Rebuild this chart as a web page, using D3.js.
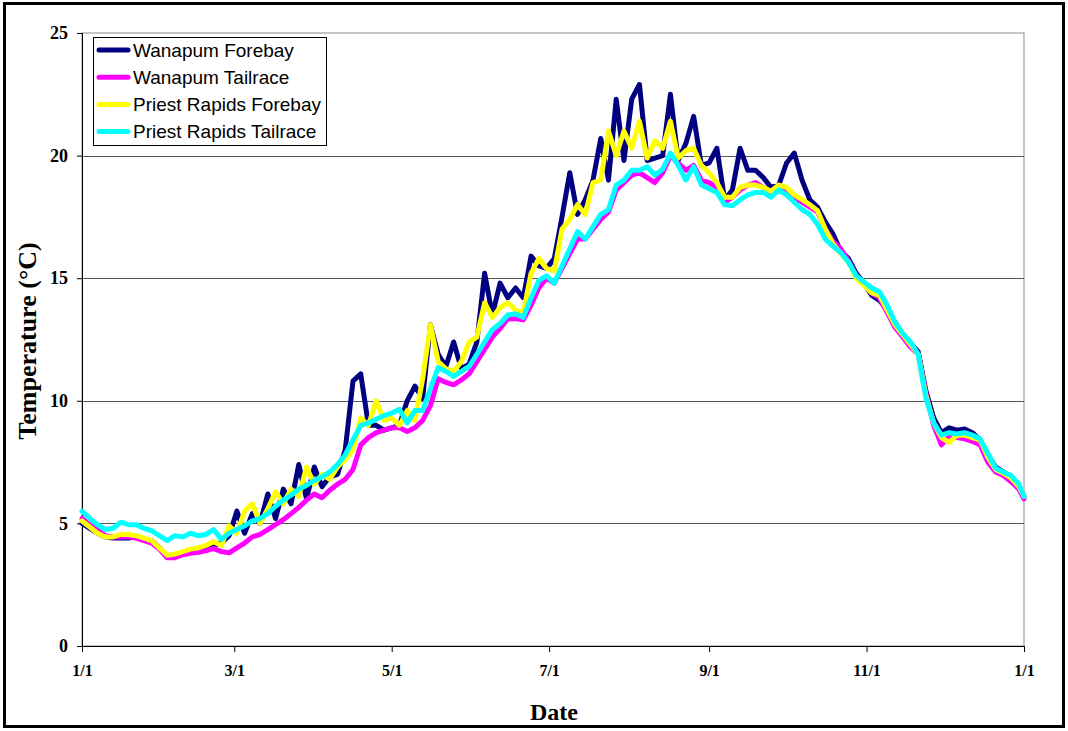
<!DOCTYPE html>
<html>
<head>
<meta charset="utf-8">
<script src="https://cdn.jsdelivr.net/npm/d3@7"></script>
<style>
  html, body { margin: 0; padding: 0; background: #fff; }
  #chart { width: 1068px; height: 731px; }
</style>
</head>
<body>
<div id="chart"></div>
<script>
// day of year for each sample
const days = [
  0, 3, 6, 9, 12, 15, 18, 21, 24, 27,
  30, 33, 36, 39, 42, 45, 48, 51, 54, 57,
  60, 63, 66, 69, 72, 75, 78, 81, 84, 87,
  90, 93, 96, 99, 102, 105, 108, 111, 114, 117,
  120, 123, 126, 129, 132, 135, 138, 141, 144, 147,
  150, 153, 156, 159, 162, 165, 168, 171, 174, 177,
  180, 183, 186, 189, 192, 195, 198, 201, 204, 207,
  210, 213, 216, 219, 222, 225, 228, 231, 234, 237,
  240, 243, 246, 249, 252, 255, 258, 261, 264, 267,
  270, 273, 276, 279, 282, 285, 288, 291, 294, 297,
  300, 303, 306, 309, 312, 315, 318, 321, 324, 327,
  330, 333, 336, 339, 342, 345, 348, 351, 354, 357,
  360, 363, 365
];

const wanapumForebay = [
  5.0, 4.8, 4.6, 4.45, 4.4, 4.4, 4.4, 4.45, 4.3, 4.3,
  4.0, 3.65, 3.65, 3.8, 3.85, 3.9, 3.95, 4.1, 4.2, 4.5,
  5.5, 4.6, 5.4, 5.0, 6.2, 5.2, 6.4, 5.8, 7.4, 6.0,
  7.3, 6.5, 6.9, 7.0, 8.0, 10.8, 11.1, 9.0, 9.0, 8.8,
  8.9, 9.0, 10.0, 10.6, 10.1, 13.1, 11.9, 11.4, 12.4, 11.3,
  11.5, 12.4, 15.2, 13.5, 14.8, 14.2, 14.6, 14.2, 15.9, 15.5,
  15.4, 15.8, 17.5, 19.3, 17.6, 18.2, 19.0, 20.7, 19.0, 22.3,
  19.8, 22.3, 22.9, 19.8, 19.9, 20.0, 22.5, 19.8, 20.5, 21.6,
  19.6, 19.7, 20.3, 18.2, 18.6, 20.3, 19.4, 19.4, 19.1, 18.7,
  18.8, 19.7, 20.1, 19.0, 18.2, 17.9, 17.3, 16.8, 16.1, 15.8,
  15.2, 14.8, 14.3, 14.1, 13.7, 13.2, 12.7, 12.35, 12.0, 10.4,
  9.3, 8.7, 8.9, 8.8, 8.85, 8.7, 8.4, 7.8, 7.3, 7.1,
  6.85, 6.5, 6.1
];

const wanapumTailrace = [
  5.2, 4.95, 4.75, 4.5, 4.45, 4.45, 4.45, 4.4, 4.3, 4.2,
  3.95, 3.6, 3.6, 3.72, 3.78, 3.82, 3.88, 3.98, 3.85, 3.8,
  4.0, 4.2, 4.45, 4.55, 4.75, 4.95, 5.15, 5.4, 5.65, 5.95,
  6.2, 6.05, 6.35, 6.6, 6.8, 7.2, 8.2, 8.5, 8.7, 8.8,
  8.9, 8.9, 8.75, 8.9, 9.2, 9.8, 10.9, 10.75, 10.65, 10.85,
  11.1, 11.6, 12.1, 12.6, 12.95, 13.35, 13.35, 13.3, 13.9, 14.6,
  15.0, 14.8, 15.4, 16.0, 16.6, 16.6, 17.0, 17.4, 17.7, 18.6,
  18.9, 19.2, 19.3, 19.1, 18.9, 19.3, 20.0, 19.7, 19.4, 19.6,
  19.0, 18.9, 18.7, 18.1, 18.3, 18.6, 18.8, 18.9, 18.7, 18.5,
  18.8, 18.6, 18.3, 18.1, 17.9, 17.7, 17.0, 16.5, 16.2, 15.7,
  15.1, 14.8, 14.4, 14.2, 13.6, 13.0, 12.6, 12.2, 11.9, 10.3,
  9.0, 8.2, 8.55, 8.5, 8.45, 8.35, 8.2, 7.5, 7.1, 6.95,
  6.7, 6.4, 6.0
];

const priestForebay = [
  5.1, 4.85, 4.6, 4.45, 4.45, 4.55, 4.55, 4.5, 4.4, 4.3,
  4.0, 3.7, 3.75, 3.85, 3.95, 4.0, 4.1, 4.25, 4.1, 4.9,
  4.6, 5.5, 5.8, 5.0, 5.6, 6.3, 5.8, 6.4, 6.1, 7.3,
  6.6, 7.0, 6.8, 7.3, 7.6, 8.0, 9.3, 9.0, 10.0, 9.2,
  9.3, 9.0, 9.6, 9.2, 10.9, 13.1, 11.6, 11.3, 11.2, 11.6,
  12.4, 12.6, 14.0, 13.4, 13.8, 14.0, 13.7, 13.6, 15.2, 15.8,
  15.4, 15.3, 17.0, 17.4, 18.0, 17.6, 18.9, 19.0, 21.0, 20.0,
  21.0, 20.3, 21.4, 19.9, 20.6, 20.3, 21.4, 19.9, 20.2, 20.3,
  19.6, 19.3, 18.9, 18.3, 18.3, 18.7, 18.8, 18.8, 18.7, 18.55,
  18.8, 18.7, 18.4, 18.2, 18.0, 17.75, 17.0, 16.4, 16.0, 15.65,
  15.0, 14.7, 14.4, 14.3, 13.7, 13.1, 12.7, 12.3, 11.9, 10.2,
  9.1, 8.5, 8.3, 8.6, 8.6, 8.5, 8.4, 7.7, 7.2, 7.05,
  6.85, 6.5, 6.1
];

const priestTailrace = [
  5.5, 5.2, 4.95, 4.75, 4.8, 5.05, 4.95, 4.95, 4.8, 4.7,
  4.5, 4.3, 4.5, 4.45, 4.6, 4.5, 4.55, 4.75, 4.35, 4.6,
  4.75, 4.9, 5.1, 5.2, 5.4, 5.7, 5.95, 6.15, 6.4, 6.55,
  6.75, 6.9, 7.1, 7.4, 7.8, 8.4, 9.0, 9.1, 9.25, 9.4,
  9.5, 9.65, 9.1, 9.6, 9.6, 10.5, 11.35, 11.2, 11.0, 11.2,
  11.4, 11.9, 12.4, 12.9, 13.15, 13.5, 13.55, 13.4, 14.2, 14.9,
  15.1, 14.8, 15.5, 16.2, 16.9, 16.6, 17.1, 17.6, 17.8, 18.8,
  19.0, 19.4, 19.4, 19.55, 19.2, 19.45, 20.1, 19.6, 19.0, 19.55,
  18.8, 18.65, 18.5, 18.0, 17.95, 18.2, 18.4, 18.5, 18.5, 18.3,
  18.6, 18.4, 18.1, 17.8, 17.6, 17.2, 16.6, 16.3, 16.05, 15.65,
  15.1, 14.85, 14.6, 14.45, 13.9, 13.2, 12.75, 12.4, 11.9, 10.1,
  9.1, 8.6, 8.7, 8.65, 8.7, 8.6, 8.45, 7.85, 7.25, 7.1,
  6.95, 6.6, 6.1
];

const seriesNames = ["Wanapum Forebay", "Wanapum Tailrace", "Priest Rapids Forebay", "Priest Rapids Tailrace"];
const seriesColors = ["#000080", "#ff00ff", "#ffff00", "#00ffff"];
const seriesValues = [wanapumForebay, wanapumTailrace, priestForebay, priestTailrace];

const yTicks = [0, 5, 10, 15, 20, 25];
const xTickDays = [0, 59, 120, 181, 243, 304, 365];
const xTickLabels = ["1/1", "3/1", "5/1", "7/1", "9/1", "11/1", "1/1"];

const width = 1068, height = 731;
const plot = { left: 82, right: 1024, top: 33, bottom: 646 };
const serif = "'Liberation Serif', 'Times New Roman', serif";

const svg = d3.select("#chart").append("svg").attr("width", width).attr("height", height);

const x = d3.scaleLinear().domain([0, 365]).range([plot.left, plot.right]);
const y = d3.scaleLinear().domain([0, 25]).range([plot.bottom, plot.top]);

// outer frame
svg.append("rect")
  .attr("x", 4.5).attr("y", 3.5)
  .attr("width", 1059).attr("height", 723)
  .attr("fill", "#fff").attr("stroke", "#000").attr("stroke-width", 3);

// plot area border (top / right in gray)
svg.append("rect")
  .attr("x", plot.left).attr("y", plot.top)
  .attr("width", plot.right - plot.left).attr("height", plot.bottom - plot.top)
  .attr("fill", "none").attr("stroke", "#8c8c8c").attr("stroke-width", 1);

// horizontal gridlines
svg.append("g")
  .selectAll("line")
  .data(yTicks.filter(d => d > 0 && d < 25))
  .join("line")
  .attr("x1", plot.left).attr("x2", plot.right)
  .attr("y1", d => Math.round(y(d)) + 0.5).attr("y2", d => Math.round(y(d)) + 0.5)
  .attr("stroke", "#555").attr("stroke-width", 1);

// y axis
const yAxis = svg.append("g")
  .attr("transform", `translate(${plot.left},0)`)
  .call(d3.axisLeft(y).tickValues(yTicks).tickSize(5).tickPadding(9).tickFormat(d3.format("d")));
yAxis.select(".domain").attr("stroke", "#000");
yAxis.selectAll(".tick line").attr("stroke", "#000");
yAxis.selectAll("text")
  .attr("font-family", serif)
  .attr("font-weight", "bold").attr("font-size", 18).attr("fill", "#000");

// x axis
const xAxis = svg.append("g")
  .attr("transform", `translate(0,${plot.bottom})`)
  .call(d3.axisBottom(x).tickValues(xTickDays).tickSize(6).tickPadding(13)
    .tickFormat((d, i) => xTickLabels[i]));
xAxis.select(".domain").attr("stroke", "#000");
xAxis.selectAll(".tick line").attr("stroke", "#000");
xAxis.selectAll("text")
  .attr("font-family", serif)
  .attr("font-weight", "bold").attr("font-size", 16).attr("fill", "#000");

// series lines
const line = d3.line()
  .x((d, i) => x(days[i]))
  .y(d => y(d));

svg.append("g")
  .selectAll("path")
  .data(seriesValues)
  .join("path")
  .attr("d", d => line(d))
  .attr("fill", "none")
  .attr("stroke", (d, i) => seriesColors[i])
  .attr("stroke-width", 5)
  .attr("stroke-linejoin", "round")
  .attr("stroke-linecap", "round");

// axis titles
svg.append("text")
  .attr("x", 554).attr("y", 720)
  .attr("text-anchor", "middle")
  .attr("font-family", serif)
  .attr("font-weight", "bold").attr("font-size", 24)
  .text("Date");

svg.append("text")
  .attr("transform", "translate(36,341) rotate(-90)")
  .attr("text-anchor", "middle")
  .attr("font-family", serif)
  .attr("font-weight", "bold").attr("font-size", 26)
  .text("Temperature (°C)");

// legend
const legend = svg.append("g");
legend.append("rect")
  .attr("x", 93.5).attr("y", 37.5).attr("width", 233).attr("height", 108)
  .attr("fill", "#fff").attr("stroke", "#000").attr("stroke-width", 1);

const rows = legend.selectAll("g.item")
  .data(seriesNames)
  .join("g")
  .attr("class", "item")
  .attr("transform", (d, i) => `translate(0,${50 + i * 27.2})`);

rows.append("line")
  .attr("x1", 99).attr("x2", 128).attr("y1", 0).attr("y2", 0)
  .attr("stroke", (d, i) => seriesColors[i]).attr("stroke-width", 5)
  .attr("stroke-linecap", "round");

rows.append("text")
  .attr("x", 133).attr("y", 6.5)
  .attr("font-family", "'Liberation Sans', Arial, sans-serif")
  .attr("font-size", 19).attr("fill", "#000")
  .text(d => d);
</script>
</body>
</html>
